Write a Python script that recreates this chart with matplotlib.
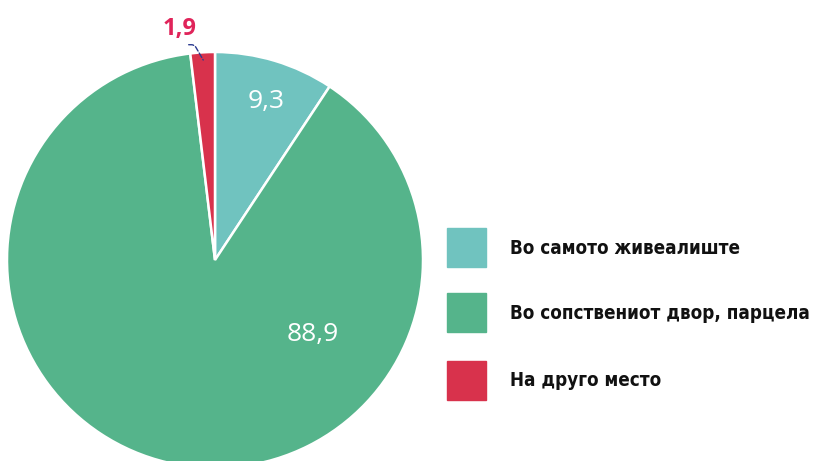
import matplotlib.pyplot as plt
from matplotlib.patches import Rectangle

labels = ['Во самото живеалиште', 'Во сопствениот двор, парцела', 'На друго место']
values = [9.3, 88.9, 1.9]
value_texts = ['9,3', '88,9', '1,9']
colors = ['#70c3bf', '#55b48b', '#d8324c']

fig = plt.figure(figsize=(8.2, 4.61), dpi=100)
W, H = 820, 461
cx, cy, r = 215, 260, 208
ax = fig.add_axes([(cx - r) / W, (H - cy - r) / H, 2 * r / W, 2 * r / H])
wedges, _ = ax.pie(values, colors=colors, startangle=90, counterclock=False,
                   radius=1, wedgeprops=dict(edgecolor='white', linewidth=1.8))
ax.set_xlim(-1, 1)
ax.set_ylim(-1, 1)
ax.axis('off')
for w in wedges:
    w.set_clip_on(False)

# value labels
ax.text(0.245, 0.76, value_texts[0], color='white', fontsize=19, ha='center', va='center',
        family='Open Sans')
ax.text(0.47, -0.36, value_texts[1], color='white', fontsize=19, ha='center', va='center',
        family='Open Sans')
ax.text(-0.17, 1.11, value_texts[2], color='#e0245a', fontsize=17, fontweight='bold',
        ha='center', va='center', family='Open Sans', clip_on=False)
ax.annotate('', xy=(-0.05, 0.95), xytext=(-0.14, 1.035),
            arrowprops=dict(arrowstyle='-', color='#2b3a8f', linestyle='--', lw=1,
                            connectionstyle='angle,angleA=0,angleB=-60,rad=3'),
            annotation_clip=False)

# legend
box_y = [228, 293, 361]
for lab, col, y in zip(labels, colors, box_y):
    fig.patches.append(Rectangle((447 / W, 1 - (y + 39) / H), 39 / W, 39 / H,
                                 transform=fig.transFigure, color=col))
    fig.text(510 / W, 1 - (y + 20) / H, lab, fontsize=13.5, fontweight='bold',
             family='DejaVu Sans', fontstretch='condensed', va='center', ha='left',
             color='#111111')

fig.savefig('out.png', dpi=100)
